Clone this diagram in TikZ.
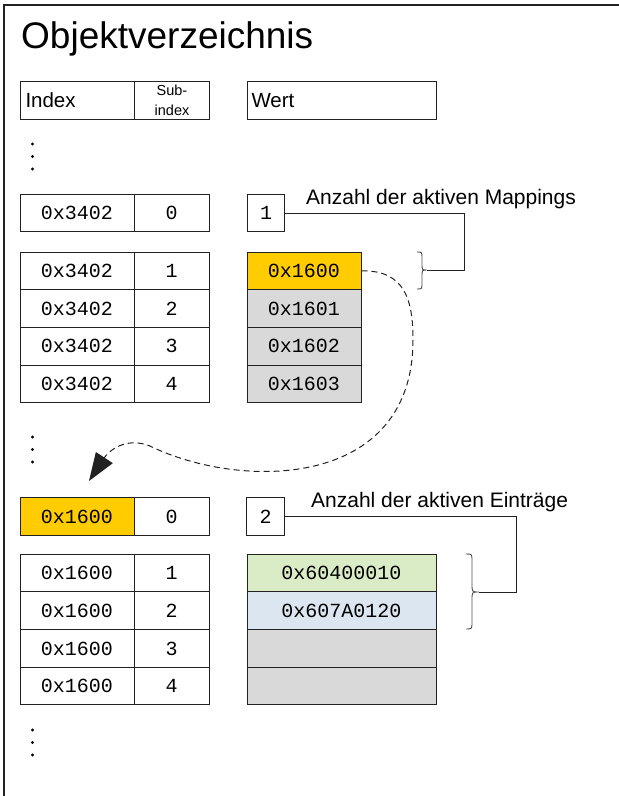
\documentclass[tikz,border=0pt]{standalone}
\usepackage{fontspec}
\setmainfont{Liberation Sans}
\newfontfamily\monof{Liberation Mono}
\usetikzlibrary{arrows.meta}
\definecolor{orng}{HTML}{FFCC00}
\definecolor{gry}{HTML}{D9D9D9}
\definecolor{grn}{HTML}{D9ECC5}
\definecolor{blu}{HTML}{DCE6F0}
\definecolor{edge}{HTML}{222222}
\begin{document}
\begin{tikzpicture}[x=1pt,y=-1pt,
  cell/.style={draw=edge, line width=1pt, inner sep=0pt, minimum height=37.75pt, font=\monof\fontsize{20}{24}\selectfont},
  idxcell/.style={cell, minimum width=114pt},
  subcell/.style={cell, minimum width=75pt},
  valcell/.style={cell, minimum width=114pt},
  wvalcell/.style={cell, minimum width=189pt},
  numcell/.style={cell, minimum width=37.5pt},
  lbl/.style={font=\fontsize{21}{25}\selectfont, inner sep=0pt, anchor=base west},
  brace/.style={draw=edge!80, line width=0.9pt},
  conn/.style={draw=edge, line width=1pt},
  dot/.style={fill=black}
]
\useasboundingbox (0,0) rectangle (619,796);
% frame
\draw[line width=2pt, draw=edge] (4,796) -- (4,5) -- (619,5);
% title
\node[inner sep=0pt, anchor=base west, font=\fontsize{37}{44}\selectfont] (title) at (21,48) {Objektverzeichnis};
% header
\node[cell, minimum width=114pt, minimum height=38pt, text width=104pt, align=left, font=\fontsize{20.5}{24}\selectfont, anchor=north west] (hidx) at (20,81) {Index};
\node[cell, minimum width=75pt, minimum height=38pt, align=center, font=\fontsize{14.5}{20}\selectfont, anchor=north west] (hsub) at (134,81) {Sub-\\index};
\node[cell, minimum width=189pt, minimum height=38pt, text width=181pt, align=left, font=\fontsize{20.5}{24}\selectfont, anchor=north west] (hval) at (247,81) {Wert};
% dots upper
\fill[dot] (32.5,144) circle (1.7);
\fill[dot] (32.5,156.5) circle (1.7);
\fill[dot] (32.5,169) circle (1.7);
% 0x3402 subindex 0
\node[idxcell] (a0) at (77,213) {0x3402};
\node[subcell] (b0) at (171.5,213) {0};
\node[numcell] (n1) at (266,213) {1};
\node[lbl] (l1) at (306,204) {Anzahl der aktiven Mappings};
% 0x3402 rows
\node[idxcell] (a1) at (77,270.9) {0x3402};
\node[subcell] (b1) at (171.5,270.9) {1};
\node[idxcell] (a2) at (77,308.6) {0x3402};
\node[subcell] (b2) at (171.5,308.6) {2};
\node[idxcell] (a3) at (77,346.4) {0x3402};
\node[subcell] (b3) at (171.5,346.4) {3};
\node[idxcell] (a4) at (77,384.1) {0x3402};
\node[subcell] (b4) at (171.5,384.1) {4};
\node[valcell, fill=orng] (v1) at (304,270.9) {0x1600};
\node[valcell, fill=gry] (v2) at (304,308.6) {0x1601};
\node[valcell, fill=gry] (v3) at (304,346.4) {0x1602};
\node[valcell, fill=gry] (v4) at (304,384.1) {0x1603};
% upper brace and connector
\coordinate (bt1) at (427,270);
\coordinate (k1) at (464,270);
\draw[brace] (417,252) .. controls (422,252) .. (422,258) -- (422,264) .. controls (422,270) .. (bt1) .. controls (422,270) .. (422,276) -- (422,283) .. controls (422,289) .. (417,289);
\draw[conn] (n1.east) -| (k1) -- (bt1);
% dashed curved arrow
\coordinate (p1) at (413,340);
\coordinate (p2) at (150,446);
\coordinate (tip) at (89,481);
\draw[line width=1pt, draw=edge, dash pattern=on 6pt off 4pt, -{Triangle[length=28pt,width=20pt]}]
  (v1.east) .. controls (405,270) and (413,300) .. (p1)
  .. controls (413,490) and (240,490) .. (p2)
  .. controls (125,436) and (108,452) .. (tip);
% dots middle
\fill[dot] (32.5,437) circle (1.7);
\fill[dot] (32.5,449.5) circle (1.7);
\fill[dot] (32.5,462) circle (1.7);
% 0x1600 subindex 0
\node[idxcell, fill=orng] (c0) at (77,516.5) {0x1600};
\node[subcell] (d0) at (171.5,516.5) {0};
\node[numcell] (n2) at (265.5,516.5) {2};
\node[lbl] (l2) at (311,507) {Anzahl der aktiven Einträge};
% 0x1600 rows
\node[idxcell] (c1) at (77,572.9) {0x1600};
\node[subcell] (d1) at (171.5,572.9) {1};
\node[idxcell] (c2) at (77,610.6) {0x1600};
\node[subcell] (d2) at (171.5,610.6) {2};
\node[idxcell] (c3) at (77,648.4) {0x1600};
\node[subcell] (d3) at (171.5,648.4) {3};
\node[idxcell] (c4) at (77,686.1) {0x1600};
\node[subcell] (d4) at (171.5,686.1) {4};
\node[wvalcell, fill=grn] (w1) at (341.5,572.9) {0x60400010};
\node[wvalcell, fill=blu] (w2) at (341.5,610.6) {0x607A0120};
\node[wvalcell, fill=gry] (w3) at (341.5,648.4) {};
\node[wvalcell, fill=gry] (w4) at (341.5,686.1) {};
% lower brace and connector
\coordinate (bt2) at (479,592);
\coordinate (k2) at (516,592);
\draw[brace] (466,554) .. controls (472,554) .. (472,561) -- (472,584) .. controls (472,592) .. (bt2) .. controls (472,592) .. (472,600) -- (472,622) .. controls (472,629) .. (466,629);
\draw[conn] (n2.east) -| (k2) -- (bt2);
% dots lower
\fill[dot] (32.5,730) circle (1.7);
\fill[dot] (32.5,742.5) circle (1.7);
\fill[dot] (32.5,755) circle (1.7);
\end{tikzpicture}
\end{document}
